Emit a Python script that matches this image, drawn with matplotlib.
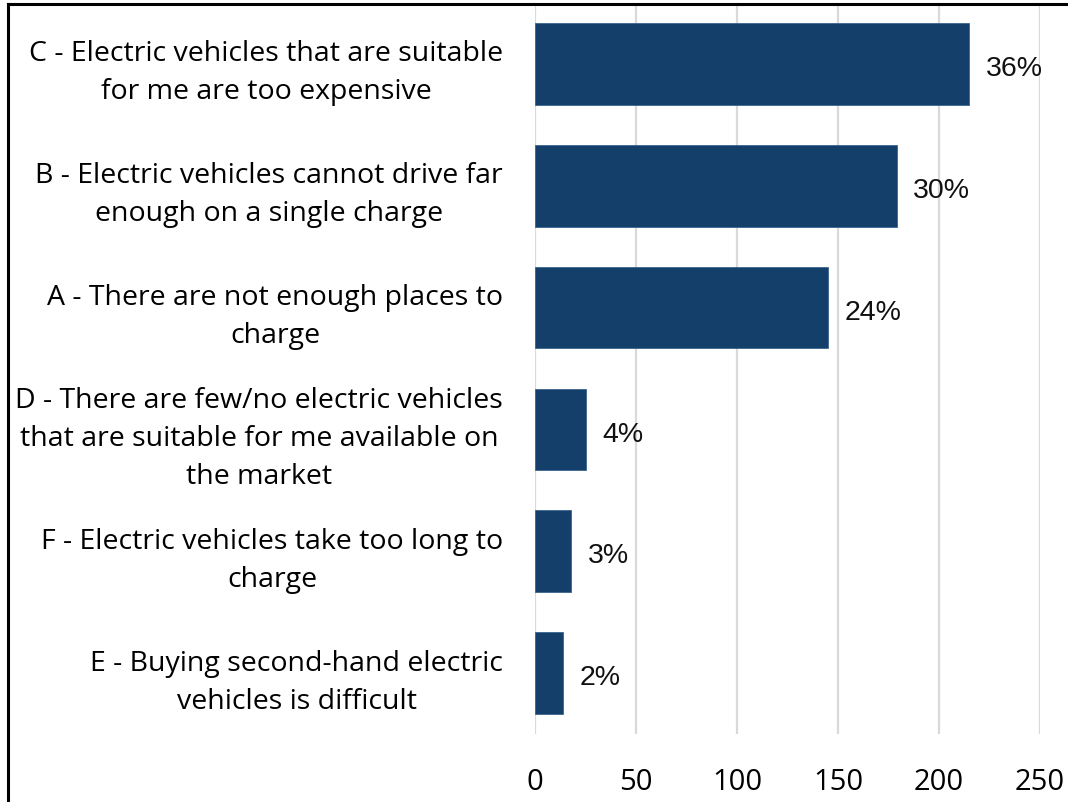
import matplotlib.pyplot as plt
from matplotlib.lines import Line2D

labels = [
    "C - Electric vehicles that are suitable\nfor me are too expensive",
    "B - Electric vehicles cannot drive far\nenough on a single charge",
    "A - There are not enough places to\ncharge",
    "D - There are few/no electric vehicles\nthat are suitable for me available on\nthe market",
    "F - Electric vehicles take too long to\ncharge",
    "E - Buying second-hand electric\nvehicles is difficult",
]
counts = [215, 179, 145, 25, 18, 14]
pct_labels = ["36%", "30%", "24%", "4%", "3%", "2%"]
xticks = [0, 50, 100, 150, 200, 250]

plt.rcParams['font.family'] = ['Open Sans', 'DejaVu Sans']

fig = plt.figure(figsize=(10.68, 8.03), dpi=100)
ax = fig.add_axes([535 / 1068, 1 - 735 / 803, 505 / 1068, 731 / 803])

ypos = list(range(len(labels)))[::-1]
ax.barh(ypos, counts, height=0.67, color='#133f6a', edgecolor='#3a6590',
        linewidth=0.6, zorder=3)

for y, c, t in zip(ypos, counts, pct_labels):
    ax.annotate(t, (c, y), xytext=(12, -3), textcoords='offset points',
                ha='left', va='center', fontsize=20.5, family='Liberation Sans',
                color='#111111')

ax.set_xlim(0, 250)
ax.set_ylim(-0.5, 5.5)
ax.set_xticks(xticks)
ax.set_xticklabels([str(v) for v in xticks], fontsize=21)
ax.set_yticks(ypos)
ax.set_yticklabels(labels, fontsize=20.5, multialignment='center', linespacing=1.48)
ax.tick_params(axis='both', length=0)
ax.tick_params(axis='x', pad=24)
ax.tick_params(axis='y', pad=23)
ax.grid(axis='x', color='#d9d9d9', linewidth=1.6, zorder=0)
for s in ax.spines.values():
    s.set_visible(False)

# outer frame (cropped at right and bottom)
ytop = 1 - 5 / 803
xl = 8 / 1068
fig.add_artist(Line2D([xl, 1], [ytop, ytop], color='black', linewidth=2.2))
fig.add_artist(Line2D([xl, xl], [0, ytop], color='black', linewidth=2.2))

fig.savefig('out.png', dpi=100)
